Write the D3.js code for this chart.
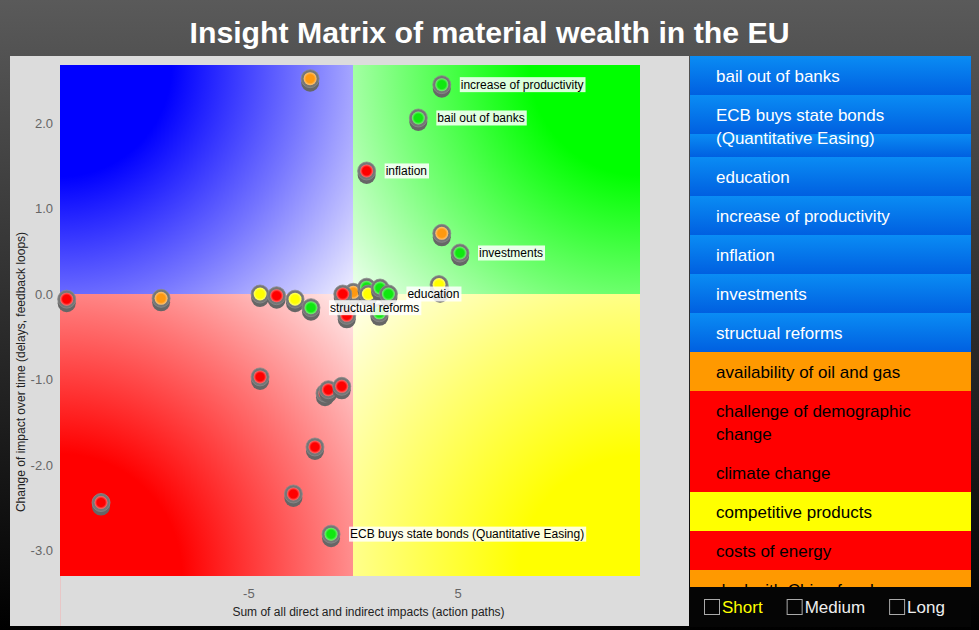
<!DOCTYPE html>
<html><head><meta charset="utf-8">
<script src="https://cdn.jsdelivr.net/npm/d3@7"></script>
<style>
html,body{margin:0;padding:0;background:#000;}
svg{display:block;font-family:"Liberation Sans",Arial,Helvetica,sans-serif;}
</style>
</head><body>
<svg id="chart" width="979" height="630"></svg>
<script>
// ---------- data ----------
const chartTitle = "Insight Matrix of material wealth in the EU";
const xAxisTitle = "Sum of all direct and indirect impacts (action paths)";
const yAxisTitle = "Change of impact over time (delays, feedback loops)";
const xDomain = [-14, 13.71];
const yDomain = [-3.3, 2.68];
const xTickValues = [-5, 5];
const yTickValues = [2, 1, 0, -1, -2, -3];

// points (drawn in this order)
const pointX = [-2.05, 4.24, 3.12, 0.65, 4.24, 5.11, 4.16, 4.11,
  -13.68, -9.17, -4.44, -3.65, -2.77, -2.01, -0.30, 1.26,
  0.01, -0.49, 0.65, 0.73, 1.29, 1.69,
  -4.44, -1.34, -1.18, -0.54, -1.82, -2.85, -12.04, -1.05];
const pointY = [2.52, 2.45, 2.06, 1.44, 0.71, 0.48, 0.05, 0.11,
  -0.06, -0.05, 0.00, -0.02, -0.06, -0.16, -0.25, -0.22,
  0.02, 0.00, 0.08, 0.00, 0.07, 0.00,
  -0.97, -1.16, -1.12, -1.08, -1.79, -2.34, -2.44, -2.81];
const pointType = ["orange", "green", "green", "red", "orange", "green", "yellow", "yellow",
  "red", "orange", "yellow", "red", "yellow", "green", "red", "green",
  "orange", "red", "green", "yellow", "green", "green",
  "red", "red", "red", "red", "red", "red", "red", "green"];
const pointLabel = ["", "increase of productivity", "bail out of banks", "inflation", "", "investments", "", "",
  "", "", "", "", "", "structual reforms", "", "",
  "", "", "", "", "", "education",
  "", "", "", "", "", "", "", "ECB buys state bonds (Quantitative Easing)"];

// legend list
const legendNames = ["bail out of banks", "ECB buys state bonds (Quantitative Easing)", "education",
  "increase of productivity", "inflation", "investments", "structual reforms",
  "availability of oil and gas", "challenge of demographic change", "climate change",
  "competitive products", "costs of energy", "deal with China for cheap gas"];
const legendType = ["blue", "blue", "blue", "blue", "blue", "blue", "blue",
  "orange", "red", "red", "yellow", "red", "orange"];
const timeframes = ["Short", "Medium", "Long"];
const timeframeColors = ["#ffff00", "#eeeeee", "#eeeeee"];

// ---------- drawing ----------
const svg = d3.select("#chart");
const defs = svg.append("defs");

// page background
const bg = defs.append("linearGradient").attr("id", "pagebg").attr("x1", 0).attr("y1", 0).attr("x2", 0).attr("y2", 1);
bg.append("stop").attr("offset", 0).attr("stop-color", "#5a5a5a");
bg.append("stop").attr("offset", 1).attr("stop-color", "#000000");
svg.append("rect").attr("width", 979).attr("height", 630).attr("fill", "url(#pagebg)");

// title
svg.append("text").attr("x", 489.5).attr("y", 43).attr("text-anchor", "middle")
  .attr("fill", "#fff").attr("font-weight", "bold").attr("font-size", 29)
  .attr("textLength", 600).attr("lengthAdjust", "spacingAndGlyphs")
  .text(chartTitle);

// plot panel
svg.append("rect").attr("x", 10).attr("y", 56).attr("width", 679).attr("height", 570).attr("fill", "#dcdcdc");

const x = d3.scaleLinear().domain(xDomain).range([60, 640]);
const y = d3.scaleLinear().domain(yDomain).range([576, 65]);

// quadrants: radial fade from the outer corner toward the centre
const quadColors = {blue: "#0000ff", green: "#00ff00", red: "#ff0000", yellow: "#ffff00"};
const quads = [
  {c: "blue", x0: xDomain[0], x1: 0, y0: yDomain[1], y1: 0, from: [xDomain[0], yDomain[1]]},
  {c: "green", x0: 0, x1: xDomain[1], y0: yDomain[1], y1: 0, from: [xDomain[1], yDomain[1]]},
  {c: "red", x0: xDomain[0], x1: 0, y0: 0, y1: yDomain[0], from: [xDomain[0], yDomain[0]]},
  {c: "yellow", x0: 0, x1: xDomain[1], y0: 0, y1: yDomain[0], from: [xDomain[1], yDomain[0]]}
];
quads.forEach((q, i) => {
  const fx = x(q.from[0]), fy = y(q.from[1]);
  const r = Math.hypot(fx - x(0), fy - y(0));
  const g = defs.append("radialGradient").attr("id", "q" + i).attr("gradientUnits", "userSpaceOnUse")
    .attr("cx", fx).attr("cy", fy).attr("fx", fx).attr("fy", fy).attr("r", r);
  const col = d3.color(quadColors[q.c]);
  const mix = d3.interpolateRgb(col, "#fff");
  g.append("stop").attr("offset", 0).attr("stop-color", col);
  g.append("stop").attr("offset", 0.3).attr("stop-color", col);
  g.append("stop").attr("offset", 0.65).attr("stop-color", mix(0.46));
  g.append("stop").attr("offset", 1).attr("stop-color", mix(0.94));
  svg.append("rect")
    .attr("x", x(q.x0)).attr("y", y(q.y0))
    .attr("width", x(q.x1) - x(q.x0)).attr("height", y(q.y1) - y(q.y0))
    .attr("fill", `url(#q${i})`);
});

// faint axis line below plot
svg.append("line").attr("x1", 60.5).attr("x2", 60.5).attr("y1", 576).attr("y2", 626)
  .attr("stroke", "#e8c6c6").attr("stroke-width", 1);

// axes
const hyphen = f => d => f(d).replace("\u2212", "-");
const yAxis = svg.append("g").attr("transform", "translate(60,0)")
  .call(d3.axisLeft(y).tickValues(yTickValues).tickFormat(hyphen(d3.format(".1f"))).tickSize(0).tickPadding(7));
const xAxis = svg.append("g").attr("transform", "translate(0,576)")
  .call(d3.axisBottom(x).tickValues(xTickValues).tickFormat(hyphen(d3.format("d"))).tickSize(0).tickPadding(13));
[xAxis, yAxis].forEach(a => {
  a.select(".domain").remove();
  a.selectAll("text").attr("fill", "#666").attr("font-size", 13).attr("font-family", "Liberation Sans, Arial, sans-serif");
});

svg.append("text").attr("x", 368.5).attr("y", 616).attr("text-anchor", "middle")
  .attr("font-size", 12).attr("fill", "#222").text(xAxisTitle);
svg.append("text").attr("transform", "translate(25,372) rotate(-90)").attr("text-anchor", "middle")
  .attr("font-size", 12).attr("fill", "#222").text(yAxisTitle);

// point gradients
const ptColors = {green: "#10e810", red: "#ff0000", orange: "#ff9910", yellow: "#ffff00"};
Object.keys(ptColors).forEach(k => {
  const g = defs.append("radialGradient").attr("id", "pt-" + k);
  g.append("stop").attr("offset", 0).attr("stop-color", ptColors[k]);
  g.append("stop").attr("offset", 0.62).attr("stop-color", ptColors[k]);
  g.append("stop").attr("offset", 1).attr("stop-color", d3.interpolateRgb(ptColors[k], "#fff")(0.45));
});

const points = pointX.map((v, i) => ({x: v, y: pointY[i], t: pointType[i], label: pointLabel[i]}));
const pg = svg.append("g");
points.forEach(p => {
  const cx = x(p.x), cy = y(p.y);
  const g = pg.append("g");
  g.append("circle").attr("cx", cx).attr("cy", cy + 4).attr("r", 9).attr("fill", "#666");
  g.append("circle").attr("cx", cx).attr("cy", cy).attr("r", 9).attr("fill", "#767676")
    .attr("stroke", "#8a8a8a").attr("stroke-width", 0.8);
  g.append("circle").attr("cx", cx).attr("cy", cy).attr("r", 6.5).attr("fill", `url(#pt-${p.t})`);
});

// labels
const lg = svg.append("g");
points.filter(p => p.label).forEach(p => {
  const cx = x(p.x), cy = y(p.y);
  const g = lg.append("g");
  const r = g.append("rect").attr("fill", "#fff").attr("fill-opacity", 0.85);
  const t = g.append("text").attr("x", cx + 19).attr("y", cy + 4.2).attr("font-size", 12).attr("fill", "#000").text(p.label);
  const w = t.node().getComputedTextLength();
  r.attr("x", cx + 18).attr("y", cy - 7.5).attr("width", w + 3).attr("height", 15);
});

// legend list panel
const lx = 690, lw = 281, ltop = 56, lbottom = 587;
defs.append("clipPath").attr("id", "legclip").append("rect")
  .attr("x", lx).attr("y", ltop).attr("width", lw).attr("height", lbottom - ltop);
const blueG = defs.append("linearGradient").attr("id", "bluerow").attr("x1", 0).attr("y1", 0).attr("x2", 0).attr("y2", 1);
blueG.append("stop").attr("offset", 0).attr("stop-color", "#0a8cf4");
blueG.append("stop").attr("offset", 1).attr("stop-color", "#005fe0");
const rowFill = {orange: "#ff9900", red: "#ff0000", yellow: "#ffff00"};
const leg = svg.append("g").attr("clip-path", "url(#legclip)");
const lineH = 23, pad = 8, unit = 39, maxW = 240;
let yy = ltop;
legendNames.forEach((name, i) => {
  const type = legendType[i];
  const row = leg.append("g");
  const bgG = row.append("g");
  const txt = row.append("g");
  const words = name.split(" ");
  const lines = [];
  let cur = "";
  const probe = txt.append("text").attr("font-size", 17);
  words.forEach(wd => {
    const test = cur ? cur + " " + wd : wd;
    probe.text(test);
    if (probe.node().getComputedTextLength() > maxW && cur) { lines.push(cur); cur = wd; }
    else cur = test;
  });
  lines.push(cur);
  probe.remove();
  const h = pad * 2 + lineH * lines.length;
  if (type === "blue") {
    for (let k = 0; k < h; k += unit) {
      bgG.append("rect").attr("x", lx).attr("y", yy + k).attr("width", lw).attr("height", Math.min(unit, h - k) + 0.5)
        .attr("fill", "url(#bluerow)");
    }
  } else {
    bgG.append("rect").attr("x", lx).attr("y", yy).attr("width", lw).attr("height", h + 0.5).attr("fill", rowFill[type]);
  }
  lines.forEach((ln, j) => {
    txt.append("text").attr("x", 716).attr("y", yy + pad + lineH * j + lineH / 2 + 6)
      .attr("font-size", 17).attr("fill", type === "blue" ? "#fff" : "#000").text(ln);
  });
  yy += h;
});

// timeframe bar
svg.append("rect").attr("x", lx).attr("y", lbottom).attr("width", lw).attr("height", 40).attr("fill", "#050505");
let tx = 704;
timeframes.forEach((tf, i) => {
  svg.append("rect").attr("x", tx + 0.5).attr("y", 599.5).attr("width", 15).attr("height", 15)
    .attr("fill", "none").attr("stroke", "#aaa").attr("stroke-width", 1);
  const t = svg.append("text").attr("x", tx + 18).attr("y", 613).attr("font-size", 17)
    .attr("fill", timeframeColors[i]).text(tf);
  tx += 18 + t.node().getComputedTextLength() + 24;
});
</script>
</body></html>
